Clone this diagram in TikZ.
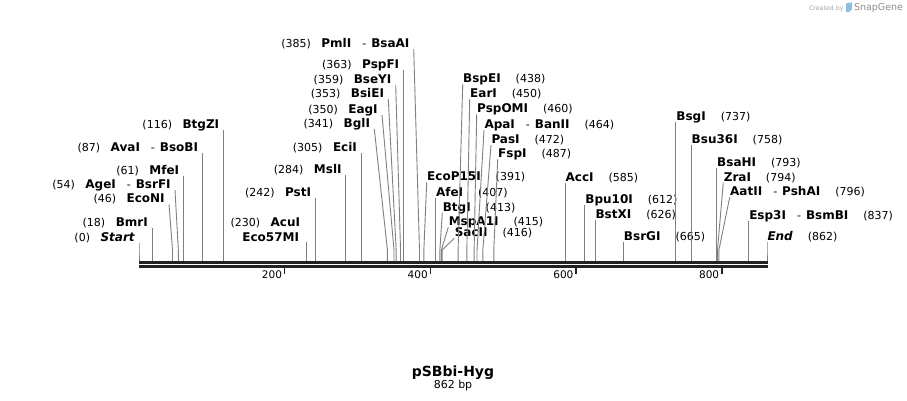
\documentclass[tikz,border=0pt]{standalone}
\usepackage{fontspec}
\setmainfont{DejaVu Sans}
\usetikzlibrary{calc}
\definecolor{leadc}{RGB}{128,128,128}
\definecolor{barc}{RGB}{34,34,34}
\definecolor{iconc}{RGB}{140,190,225}
\newcommand\nm[1]{{\fontsize{12}{14}\selectfont\bfseries #1}}
\newcommand\nb[1]{{\fontsize{11}{13}\selectfont(#1)}}
\newcommand\hy{{\fontsize{11}{13}\selectfont\hspace{11pt}-\hspace{5pt}}}
\newcommand\SiteX[1]{139+0.728538*#1}
\newcommand\lgap{\hspace{10.5pt}}
\newcommand\rgap{\hspace{15pt}}
% right-hand label: id, bp, top x, top y, content
\newcommand\RL[5]{%
  \coordinate (s#1) at ({\SiteX{#2}},261);
  \coordinate (b#1) at ({\SiteX{#2}},250);
  \node[lab,anchor=base west] (n#1) at ({#3+0.5},{#4-1.5}) {#5};
  \draw[lead] ($(n#1.base west)+(-0.5,1.5)$) -- (b#1) -- (s#1);}
\newcommand\RV[4]{\RL{#1}{#2}{\SiteX{#2}}{#3}{#4}}
% left-hand label
\newcommand\LL[5]{%
  \coordinate (s#1) at ({\SiteX{#2}},261);
  \coordinate (b#1) at ({\SiteX{#2}},250);
  \node[lab,anchor=base east] (n#1) at ({#3-4.3},{#4-1.5}) {#5};
  \draw[lead] ($(n#1.base east)+(4.3,1.5)$) -- (b#1) -- (s#1);}
\newcommand\LV[4]{\LL{#1}{#2}{\SiteX{#2}}{#3}{#4}}
\begin{document}
\begin{tikzpicture}[x=1pt,y=-1pt,
  lab/.style={inner sep=0pt,outer sep=0pt,text=black},
  lead/.style={draw=leadc,line width=0.9pt},
  bar/.style={draw=barc,line width=2.7pt},
  tick/.style={draw=barc,line width=1.4pt},
  ticklab/.style={inner sep=0pt,anchor=base east,font=\fontsize{10.5}{12}\selectfont}]
\useasboundingbox (0,0) rectangle (907,400);
\fill[white] (0,0) rectangle (907,400);

% axis
\coordinate (axL) at (139,262.3);
\coordinate (axR) at (768,262.3);
\coordinate (axL2) at (139,266.3);
\coordinate (axR2) at (768,266.3);
\draw[bar] (axL) -- (axR);
\draw[bar] (axL2) -- (axR2);
\foreach \t in {200,400,600,800}{
  \coordinate (tk\t) at ({\SiteX{\t}},267);
  \draw[tick] (tk\t) -- ++(0,6.5);
  \node[ticklab] (tl\t) at ({\SiteX{\t}-2.5},278) {\t};
}

% left labels
\LV{0}{0}{243}{\nb{0}\lgap\nm{\itshape Start}}
\LV{18}{18}{228}{\nb{18}\lgap\nm{BmrI}}
\LL{46}{46}{169}{204.3}{\nb{46}\lgap\nm{EcoNI}}
\LL{54}{54}{175}{190}{\nb{54}\lgap\nm{AgeI}\hy\nm{BsrFI}}
\LV{61}{61}{176}{\nb{61}\lgap\nm{MfeI}}
\LV{87}{87}{153}{\nb{87}\lgap\nm{AvaI}\hy\nm{BsoBI}}
\LV{116}{116}{130}{\nb{116}\lgap\nm{BtgZI}}
% 230 two-line label
\coordinate (s230) at ({\SiteX{230}},261);
\coordinate (b230) at ({\SiteX{230}},250);
\node[lab,anchor=base east] (n230) at ({\SiteX{230}-7.5},241) {\nm{Eco57MI}};
\node[lab,anchor=base east] (n230b) at ({\SiteX{230}-6.5},226.5) {\nb{230}\lgap\nm{AcuI}};
\draw[lead] ($(n230.base east)+(7.5,1)$) -- (b230) -- (s230);
\LV{242}{242}{198}{\nb{242}\lgap\nm{PstI}}
\LV{284}{284}{175}{\nb{284}\lgap\nm{MslI}}
\LV{305}{305}{153}{\nb{305}\lgap\nm{EciI}}
\LL{341}{341}{374.3}{129}{\nb{341}\lgap\nm{BglI}}
\LL{350}{350}{382}{115}{\nb{350}\lgap\nm{EagI}}
\LL{353}{353}{388.3}{99.3}{\nb{353}\lgap\nm{BsiEI}}
\LL{359}{359}{395.7}{85}{\nb{359}\lgap\nm{BseYI}}
\LV{363}{363}{70}{\nb{363}\lgap\nm{PspFI}}
\LL{385}{385}{413.7}{49}{\nb{385}\lgap\nm{PmlI}\hy\nm{BsaAI}}

% right labels
\RL{391}{391}{426.7}{182.3}{\nm{EcoP15I}\rgap\nb{391}}
\RV{407}{407}{197.7}{\nm{AfeI}\rgap\nb{407}}
\RL{413}{413}{442.3}{212.7}{\nm{BtgI}\rgap\nb{413}}
\RL{415}{415}{448.3}{227.3}{\nm{MspA1I}\rgap\nb{415}}
\RL{416}{416}{454.3}{238.3}{\nm{SacII}\rgap\nb{416}}
\RL{438}{438}{462.7}{84.3}{\nm{BspEI}\rgap\nb{438}}
\RL{450}{450}{469.7}{99.3}{\nm{EarI}\rgap\nb{450}}
\RL{460}{460}{476.7}{114.3}{\nm{PspOMI}\rgap\nb{460}}
\RL{464}{464}{484}{130}{\nm{ApaI}\hy\nm{BanII}\rgap\nb{464}}
\RL{472}{472}{491}{145}{\nm{PasI}\rgap\nb{472}}
\RL{487}{487}{497.7}{159.3}{\nm{FspI}\rgap\nb{487}}
\RV{585}{585}{183}{\nm{AccI}\rgap\nb{585}}
\RV{612}{612}{205}{\nm{Bpu10I}\rgap\nb{612}}
\RV{626}{626}{220}{\nm{BstXI}\rgap\nb{626}}
\RV{665}{665}{241.7}{\nm{BsrGI}\rgap\nb{665}}
\RV{737}{737}{121.7}{\nm{BsgI}\rgap\nb{737}}
\RV{758}{758}{145}{\nm{Bsu36I}\rgap\nb{758}}
\RV{793}{793}{168.3}{\nm{BsaHI}\rgap\nb{793}}
\RL{794}{794}{723.3}{182.7}{\nm{ZraI}\rgap\nb{794}}
\RL{796}{796}{729.7}{197.3}{\nm{AatII}\hy\nm{PshAI}\rgap\nb{796}}
\RV{837}{837}{220.7}{\nm{Esp3I}\hy\nm{BsmBI}\rgap\nb{837}}
\RV{862}{862}{241.7}{\nm{\itshape End}\rgap\nb{862}}

% title
\node[lab,anchor=base,font=\fontsize{14}{16}\selectfont\bfseries] (title) at (453,376) {pSBbi-Hyg};
\node[lab,anchor=base,font=\fontsize{11}{13}\selectfont] (len) at (453,388.5) {862 bp};

% logo
\node[lab,anchor=base west,text=black!35,font=\fontsize{6.3}{8}\selectfont] (cb) at (809,10.5) {Created by};
\fill[iconc,rounded corners=0.8pt] (846,3) -- (852,2.3) -- (852,9.5) -- (848.5,12.3) -- (846,12) -- cycle;
\node[lab,anchor=base west,text=black!45,font=\fontsize{9.5}{11}\selectfont] (sg) at (854,10.7) {SnapGene};
\end{tikzpicture}
\end{document}
